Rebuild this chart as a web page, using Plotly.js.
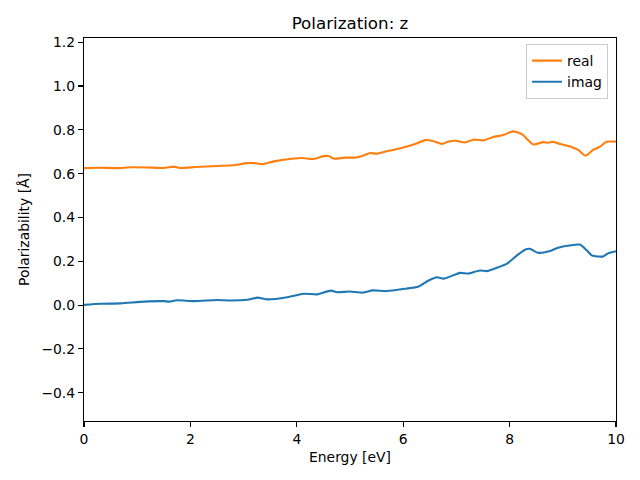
<!DOCTYPE html>
<html>
<head>
<meta charset="utf-8">
<script src="https://cdn.plot.ly/plotly-3.0.1.min.js"></script>
<style>html,body{margin:0;padding:0;background:#fff;}#chart{width:640px;height:480px;}</style>
</head>
<body>
<div id="chart"></div>
<script>
// Energy [eV] and polarizability values
const realEnergy = [0, 0.3, 0.6, 0.9, 1.2, 1.5, 1.69, 1.8, 2.1, 2.5, 2.8, 3.06, 3.2, 3.35, 3.57, 3.95, 4.1, 4.32, 4.51, 4.6, 4.7, 4.89, 5.07, 5.2, 5.38, 5.5, 5.64, 5.85, 6.07, 6.25, 6.41, 6.54, 6.73, 6.86, 6.98, 7.16, 7.32, 7.51, 7.69, 7.88, 8.06, 8.23, 8.45, 8.63, 8.72, 8.82, 8.95, 9.14, 9.29, 9.43, 9.57, 9.7, 9.82, 10];
const realValues = [0.625, 0.627, 0.625, 0.629, 0.628, 0.626, 0.632, 0.626, 0.630, 0.635, 0.638, 0.648, 0.648, 0.643, 0.656, 0.669, 0.671, 0.667, 0.680, 0.680, 0.668, 0.673, 0.673, 0.678, 0.694, 0.691, 0.699, 0.710, 0.724, 0.737, 0.753, 0.750, 0.736, 0.747, 0.750, 0.742, 0.755, 0.752, 0.767, 0.776, 0.793, 0.780, 0.733, 0.744, 0.741, 0.745, 0.735, 0.724, 0.708, 0.682, 0.708, 0.723, 0.745, 0.746];
const imagEnergy = [0, 0.31, 0.69, 1.13, 1.5, 1.6, 1.75, 2.07, 2.5, 2.76, 3.07, 3.26, 3.45, 3.82, 4.13, 4.38, 4.64, 4.76, 5.0, 5.24, 5.43, 5.69, 6.07, 6.28, 6.47, 6.63, 6.77, 7.07, 7.22, 7.44, 7.57, 7.76, 7.95, 8.14, 8.29, 8.38, 8.53, 8.76, 8.91, 9.13, 9.32, 9.45, 9.55, 9.76, 9.85, 10];
const imagValues = [0.001, 0.006, 0.008, 0.016, 0.018, 0.016, 0.022, 0.018, 0.023, 0.021, 0.024, 0.034, 0.026, 0.036, 0.052, 0.049, 0.066, 0.059, 0.062, 0.057, 0.067, 0.064, 0.076, 0.084, 0.111, 0.127, 0.121, 0.147, 0.144, 0.158, 0.155, 0.170, 0.189, 0.227, 0.253, 0.257, 0.239, 0.247, 0.262, 0.272, 0.276, 0.250, 0.226, 0.222, 0.236, 0.246];
const seriesNames = ["real", "imag"];
const xTicks = [0, 2, 4, 6, 8, 10];
const yTicks = [-0.4, -0.2, 0.0, 0.2, 0.4, 0.6, 0.8, 1.0, 1.2];

const font = "DejaVu Sans, sans-serif";
const traces = [
  {x: realEnergy, y: realValues, name: seriesNames[0], mode: "lines", line: {color: "#ff7f0e", width: 2.1, shape: "spline", smoothing: 0.6}},
  {x: imagEnergy, y: imagValues, name: seriesNames[1], mode: "lines", line: {color: "#1f77b4", width: 2.1, shape: "spline", smoothing: 0.6}}
];
const axisCommon = {
  showgrid: false, zeroline: false, showline: true, linecolor: "#000", linewidth: 1.1, mirror: true,
  ticks: "outside", ticklen: 5, tickwidth: 1.1, tickcolor: "#000",
  tickfont: {family: font, size: 13.9, color: "#000"}
};
const layout = {
  width: 640, height: 480,
  paper_bgcolor: "#fff", plot_bgcolor: "#fff",
  margin: {l: 84, r: 24, t: 38, b: 59},
  font: {family: font, color: "#000"},
  title: {text: "Polarization: z", font: {family: font, size: 16.7, color: "#000"}, x: 0.5, xref: "paper", y: 1 - 23/480, yanchor: "middle"},
  xaxis: Object.assign({}, axisCommon, {range: [0, 10], tickvals: xTicks, ticktext: xTicks.map(String),
    title: {text: "Energy [eV]", font: {family: font, size: 13.9, color: "#000"}, standoff: 6}}),
  yaxis: Object.assign({}, axisCommon, {range: [-0.529, 1.219], tickvals: yTicks, ticktext: yTicks.map(v => v.toFixed(1).replace("-", "\u2212")),
    title: {text: "Polarizability [Å]", font: {family: font, size: 13.9, color: "#000"}, standoff: 8}}),
  legend: {x: 0.985, y: 0.984, xanchor: "right", yanchor: "top", bgcolor: "rgba(255,255,255,0.8)", bordercolor: "#cccccc", borderwidth: 1,
    font: {family: font, size: 13.9, color: "#000"}, tracegroupgap: 0},
  showlegend: true
};
Plotly.newPlot("chart", traces, layout, {displayModeBar: false, staticPlot: true});
</script>
</body>
</html>
